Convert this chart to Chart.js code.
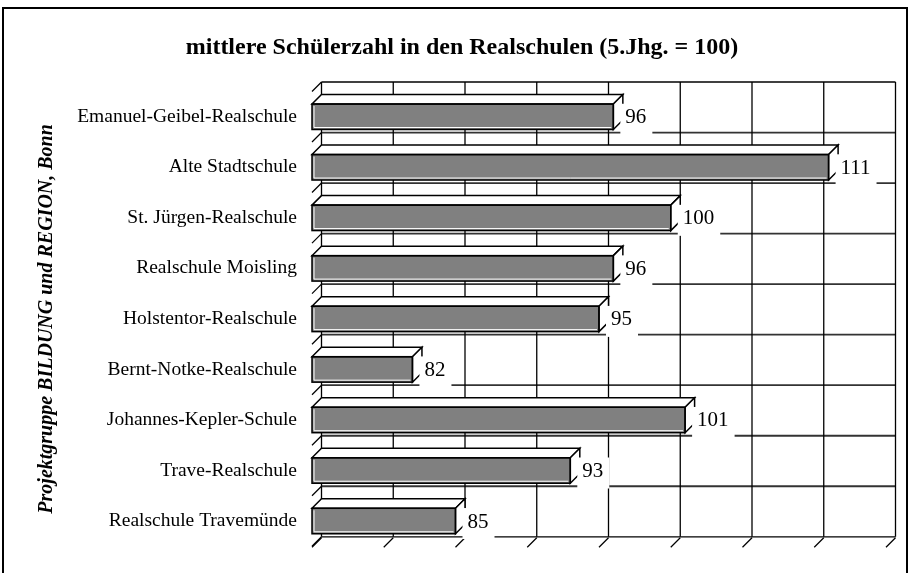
<!DOCTYPE html>
<html><head><meta charset="utf-8">
<script src="https://cdn.jsdelivr.net/npm/chart.js@4/dist/chart.umd.min.js"></script>
<style>html,body{margin:0;padding:0;background:#fff}canvas{display:block}</style>
</head><body>
<canvas id="c" width="910" height="573"></canvas>
<script>
const categories = [
  'Emanuel-Geibel-Realschule',
  'Alte Stadtschule',
  'St. Jürgen-Realschule',
  'Realschule Moisling',
  'Holstentor-Realschule',
  'Bernt-Notke-Realschule',
  'Johannes-Kepler-Schule',
  'Trave-Realschule',
  'Realschule Travemünde'
];
const values = [96, 111, 100, 96, 95, 82, 101, 93, 85];
const valueTicks = [75, 80, 85, 90, 95, 100, 105, 110, 115];
const titleText = 'mittlere Schülerzahl in den Realschulen (5.Jhg. = 100)';
const axisTitleText = 'Projektgruppe BILDUNG und REGION, Bonn';

const DX = 9.5, DY = -9.5;
const SERIF = '"Liberation Serif", "Times New Roman", serif';

function line(ctx, x1, y1, x2, y2) {
  ctx.beginPath(); ctx.moveTo(x1, y1); ctx.lineTo(x2, y2); ctx.stroke();
}

const frame3d = {
  id: 'frame3d',
  beforeDraw(chart) {
    const ctx = chart.ctx;
    ctx.save();
    ctx.fillStyle = '#fff';
    ctx.fillRect(0, 0, chart.width, chart.height);
    ctx.strokeStyle = '#000';
    ctx.lineWidth = 2;
    ctx.strokeRect(3, 8, 904, 620);
    ctx.fillStyle = '#000';
    ctx.font = 'bold 24px ' + SERIF;
    ctx.textAlign = 'center';
    ctx.textBaseline = 'middle';
    ctx.fillText(titleText, 462, 48);
    ctx.restore();
  },
  beforeDatasetsDraw(chart) {
    const ctx = chart.ctx, a = chart.chartArea;
    const xs = chart.scales.x, ys = chart.scales.y;
    const n = categories.length;
    const pitch = (a.bottom - a.top) / n;
    const y0 = ys.getPixelForValue(0) - pitch / 2;
    const bl = a.left + DX, br = a.right + DX;
    const bt = a.top + DY, bb = a.bottom + DY;
    ctx.save();
    for (let k = 0; k <= n; k++) {
      const yb = y0 + k * pitch + DY;
      ctx.strokeStyle = (k === 0 || k === n) ? '#000' : '#333';
      ctx.lineWidth = (k === 0 || k === n) ? 1.3 : 1.8;
      line(ctx, bl, yb, br, yb);
      ctx.strokeStyle = '#000'; ctx.lineWidth = 1.3;
      line(ctx, bl, yb, a.left, yb - DY);
    }
    ctx.strokeStyle = '#000';
    ctx.lineWidth = 1.3;
    valueTicks.forEach(t => {
      const xb = xs.getPixelForValue(t) + DX;
      line(ctx, xb, bt, xb, bb);
      line(ctx, xb, bb + 1, xb - DX, bb + 1 - DY);
    });
    ctx.restore();
  },
  afterDatasetsDraw(chart) {
    const ctx = chart.ctx;
    const meta = chart.getDatasetMeta(0);
    ctx.save();
    meta.data.forEach((el, i) => {
      const x0 = el.base, x1 = el.x;
      const yt = el.y - el.height / 2, yb = el.y + el.height / 2;
      ctx.lineWidth = 1.5;
      ctx.strokeStyle = '#000';
      ctx.fillStyle = '#fff';
      ctx.beginPath();
      ctx.moveTo(x0, yt); ctx.lineTo(x1, yt);
      ctx.lineTo(x1 + DX, yt + DY); ctx.lineTo(x0 + DX, yt + DY);
      ctx.closePath(); ctx.fill(); ctx.stroke();
      ctx.beginPath();
      ctx.moveTo(x1, yt); ctx.lineTo(x1 + DX, yt + DY);
      ctx.lineTo(x1 + DX, yb + DY); ctx.lineTo(x1, yb);
      ctx.closePath(); ctx.fill(); ctx.stroke();
      ctx.strokeRect(x0, yt, x1 - x0, yb - yt);
      ctx.strokeStyle = '#fff'; ctx.lineWidth = 1;
      ctx.beginPath();
      ctx.moveTo(x0 + 2, yt + 2); ctx.lineTo(x0 + 2, yb - 2); ctx.lineTo(x1 - 2, yb - 2);
      ctx.stroke();
    });
    ctx.font = '21px ' + SERIF;
    ctx.textBaseline = 'middle';
    ctx.textAlign = 'left';
    meta.data.forEach((el, i) => {
      const txt = String(values[i]);
      const w = ctx.measureText(txt).width;
      const lx = el.x + 12;
      ctx.fillStyle = '#fff';
      ctx.fillRect(el.x + 7, el.y - 13, w + 11, 31);
      ctx.fillStyle = '#000';
      ctx.fillText(txt, lx, el.y + 1);
    });
    ctx.restore();
  }
};

new Chart(document.getElementById('c'), {
  type: 'bar',
  data: {
    labels: categories,
    datasets: [{
      data: values,
      base: 75,
      backgroundColor: '#808080',
      borderColor: '#000',
      borderWidth: 0,
      categoryPercentage: 1,
      barPercentage: 0.504
    }]
  },
  options: {
    indexAxis: 'y',
    responsive: false,
    animation: false,
    devicePixelRatio: 1,
    layout: { padding: { left: 20, right: 24, top: 91.5, bottom: 17.3 } },
    plugins: { legend: { display: false }, tooltip: { enabled: false }, title: { display: false } },
    scales: {
      x: { type: 'linear', min: 75, max: 115, display: false },
      y: {
        type: 'category',
        grid: { display: false, drawTicks: false },
        border: { display: false },
        ticks: { color: '#000', padding: 15, font: { family: SERIF, size: 19.5 } },
        title: {
          display: true, text: axisTitleText, color: '#000',
          font: { family: SERIF, size: 20, style: 'italic', weight: 'bold' },
          padding: { top: 15, bottom: 0 }
        },
        afterFit(s) { s.width = 292; }
      }
    }
  },
  plugins: [frame3d]
});
</script>
</body></html>
